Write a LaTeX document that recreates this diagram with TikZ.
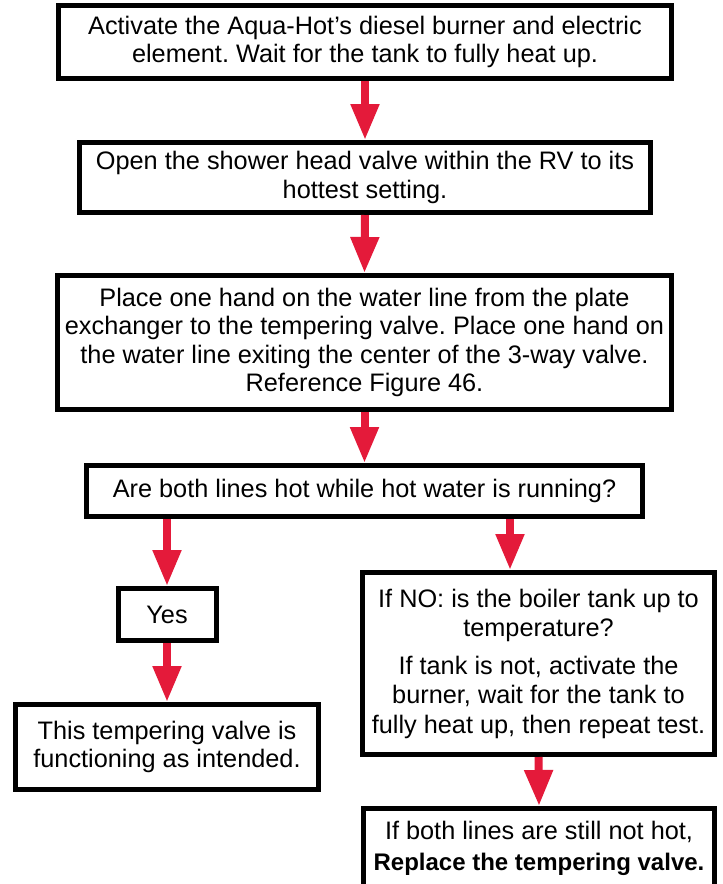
\documentclass[tikz,border=0pt]{standalone}
\usepackage{fontspec}
\setmainfont{Liberation Sans}
\usetikzlibrary{arrows.meta}
\definecolor{arrowred}{RGB}{228,26,58}
\frenchspacing
\tikzset{
  box/.style={draw=black, line width=5pt, fill=white, inner sep=0pt, align=center,
    font=\fontsize{25.3}{28.5}\selectfont},
  flow/.style={draw=arrowred, line width=8pt, -{Triangle[width=27pt,length=36pt]}, arrowred},
}
\begin{document}
\begin{tikzpicture}[x=1pt,y=-1pt]
\clip (0,0) rectangle (723,884);
\fill[white] (0,0) rectangle (723,884);
\node[box, minimum width=613pt, minimum height=73pt] (b1) at (365,42)
  {Activate the Aqua-Hot’s diesel burner and electric\\element. Wait for the tank to fully heat up.};
\node[box, minimum width=571pt, minimum height=70pt] (b2) at (365,177.5)
  {Open the shower head valve within the RV to its\\hottest setting.};
\node[box, minimum width=614pt, minimum height=134pt] (b3) at (364.5,342.5)
  {Place one hand on the water line from the plate\\exchanger to the tempering valve. Place one hand on\\the water line exiting the center of the 3-way valve.\\Reference Figure 46.};
\node[box, minimum width=556pt, minimum height=51pt] (b4) at (364.5,491)
  {Are both lines hot while hot water is running?};
\node[box, minimum width=98pt, minimum height=52pt] (yes) at (167,614.5) {Yes};
\node[box, minimum width=303pt, minimum height=85pt] (ok) at (167,747)
  {This tempering valve is\\functioning as intended.};
\node[box, minimum width=352pt, minimum height=182pt,
  font=\fontsize{25.3}{29.5}\selectfont] (no) at (538.5,663.5)
  {If NO: is the boiler tank up to\\temperature?\\[8pt]If tank is not, activate the\\burner, wait for the tank to\\fully heat up, then repeat test.};
\node[box, minimum width=351pt, minimum height=80pt] (rep) at (539,848.5)
  {If both lines are still not hot,\\[3pt]{\fontsize{24}{28}\selectfont\bfseries Replace the tempering valve.}};
\coordinate (r1) at (510,519);
\draw[flow] (b1.south) -- (b2.north);
\draw[flow] (b2.south) -- (b3.north);
\draw[flow] (b3.south) -- (b4.north);
\draw[flow] (b4.south -| yes.north) -- (yes.north);
\draw[flow] (yes.south) -- (ok.north);
\draw[flow] (b4.south -| r1) -- (r1 |- no.north);
\draw[flow] (no.south) -- (rep.north);
\end{tikzpicture}
\end{document}
